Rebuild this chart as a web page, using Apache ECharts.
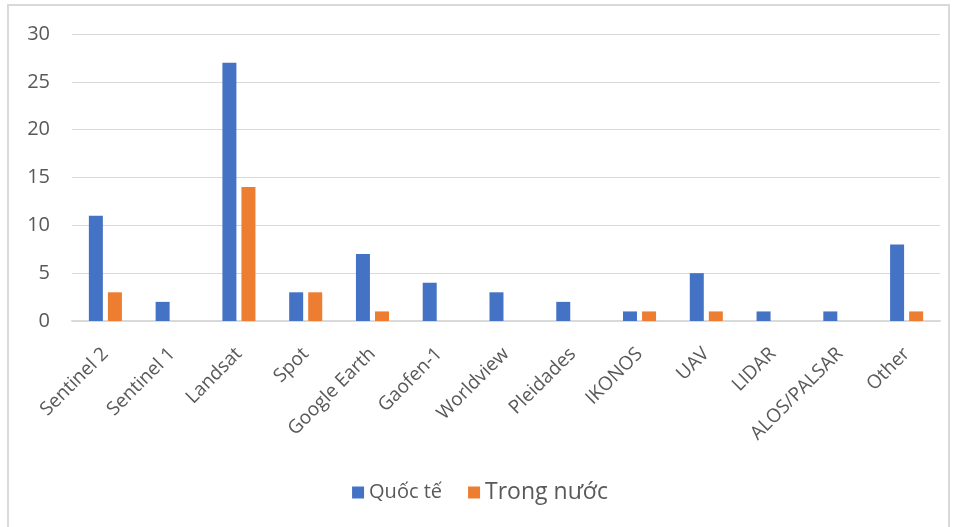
<!DOCTYPE html>
<html><head><meta charset="utf-8">
<script src="https://cdn.jsdelivr.net/npm/echarts@6/dist/echarts.min.js"></script>
<style>
html,body{margin:0;padding:0;background:#fff;}
#frame{position:absolute;left:7px;top:4px;width:943px;height:530px;border:2px solid #d9d9d9;box-sizing:border-box;}
#chart{position:absolute;left:0;top:0;width:960px;height:527px;}
</style>
</head><body>
<div id="frame"></div>
<div id="chart"></div>
<script>
const categories = ['Sentinel 2','Sentinel 1','Landsat','Spot','Google Earth','Gaofen-1','Worldview','Pleidades','IKONOS','UAV','LIDAR','ALOS/PALSAR','Other'];
const quocTe = [11,2,27,3,7,4,3,2,1,5,1,1,8];
const trongNuoc = [3,null,14,3,1,null,null,null,1,1,null,null,1];
const yTicks = [0,5,10,15,20,25,30];

const chart = echarts.init(document.getElementById('chart'));
chart.setOption({
  animation:false,
  textStyle:{fontFamily:'Open Sans'},
  grid:{left:72,right:20,top:34,bottom:206},
  legend:{
    bottom:18,left:'center',itemWidth:12,itemHeight:12,itemGap:26,
    icon:'rect',
    data:['Quốc tế','Trong nước'],
    formatter:function(n){return n==='Quốc tế' ? '{a|'+n+'}' : '{b|'+n+'}';},
    textStyle:{color:'#595959',rich:{a:{fontSize:20,color:'#595959'},b:{fontSize:23,color:'#595959'}}}
  },
  xAxis:{
    type:'category',data:categories,
    axisLine:{lineStyle:{color:'#d9d9d9',width:2}},
    axisTick:{show:false},
    axisLabel:{rotate:45,fontSize:19,color:'#595959',interval:0,margin:30}
  },
  yAxis:{
    type:'value',min:yTicks[0],max:yTicks[yTicks.length-1],interval:5,
    axisLine:{show:false},axisTick:{show:false},
    axisLabel:{fontSize:20,color:'#595959',margin:22},
    splitLine:{lineStyle:{color:'#d9d9d9',width:1}}
  },
  series:[
    {name:'Quốc tế',type:'bar',data:quocTe,barWidth:14,barGap:'36%',itemStyle:{color:'#4472C4'}},
    {name:'Trong nước',type:'bar',data:trongNuoc,barWidth:14,itemStyle:{color:'#ED7D31'}}
  ]
});
</script>
</body></html>
